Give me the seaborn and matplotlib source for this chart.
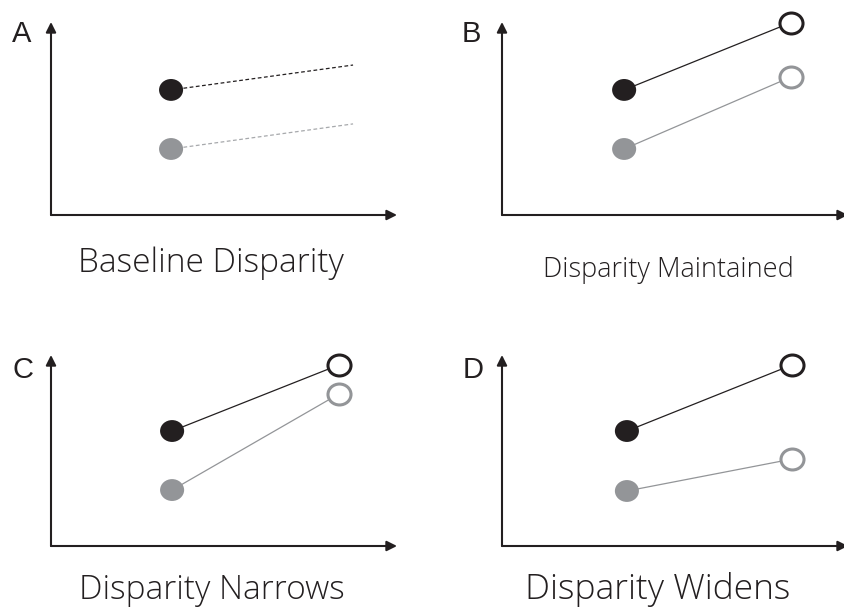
import numpy as np
import matplotlib
matplotlib.use("Agg")
import matplotlib.pyplot as plt
from matplotlib.path import Path
from matplotlib.transforms import Affine2D
import seaborn as sns

sns.set_theme(style="white")
plt.rcParams['font.family'] = ['DejaVu Sans']

# ---- data ----
panel_letters = ["A", "B", "C", "D"]
panel_titles = ["Baseline Disparity", "Disparity Maintained", "Disparity Narrows", "Disparity Widens"]
x_baseline = [3.47, 3.53, 3.50, 3.61]
x_followup = [8.73, 8.35, 8.32, 8.38]
black_baseline = [6.48, 6.48, 6.02, 6.02]
black_followup = [7.77, 9.97, 9.48, 9.48]
gray_baseline = [3.42, 3.42, 2.93, 2.88]
gray_followup = [4.72, 7.15, 7.96, 4.55]
projected = [True, False, False, False]

# ---- style ----
W, H = 844, 609
BLACK = "#231f20"
GRAY = "#939598"
ellipse = Path(Affine2D().scale(1.1, 1.0).transform(Path.unit_circle().vertices),
               Path.unit_circle().codes)

fig = plt.figure(figsize=(W / 100, H / 100), dpi=100)

# axes boxes in pixels: left, bottom(y from top), width, height
boxes = [(51, 215, 346, 193), (502, 215, 346, 193),
         (51, 546, 346, 191), (502, 546, 346, 191)]
letter_pos = [(12, 42), (462, 42), (12, 378), (463, 378)]
title_pos = [(211, 272, 24), (668, 277, 19.5), (211.5, 599, 24), (658, 599, 25.5)]

for i in range(4):
    l, b, w, h = boxes[i]
    ax = fig.add_axes([l / W, (H - b) / H, w / W, h / H])
    ax.set_xlim(0, 10)
    ax.set_ylim(0, 10)
    ax.set_axis_off()
    arrow = dict(arrowstyle="-|>", lw=1.5, color=BLACK, mutation_scale=15,
                 shrinkA=0, shrinkB=0)
    ax.annotate("", xy=(0, 1), xytext=(0, 0), xycoords="axes fraction",
                textcoords="axes fraction", arrowprops=arrow)
    ax.annotate("", xy=(1, 0), xytext=(0, 0), xycoords="axes fraction",
                textcoords="axes fraction", arrowprops=arrow)

    xs = [x_baseline[i], x_followup[i]]
    ls = (0, (3, 2)) if projected[i] else "-"
    sns.lineplot(x=xs, y=[black_baseline[i], black_followup[i]], ax=ax,
                 color=BLACK, linewidth=0.9, linestyle=ls, zorder=1)
    sns.lineplot(x=xs, y=[gray_baseline[i], gray_followup[i]], ax=ax,
                 color=GRAY if not projected[i] else "#a7a9ac", linewidth=0.9,
                 linestyle=ls, zorder=1)
    # baseline filled markers
    sns.scatterplot(x=[x_baseline[i]], y=[black_baseline[i]], ax=ax, marker=ellipse,
                    s=300, color=BLACK, edgecolor="none", linewidth=0,
                    clip_on=False, zorder=3)
    sns.scatterplot(x=[x_baseline[i]], y=[gray_baseline[i]], ax=ax, marker=ellipse,
                    s=300, color=GRAY, edgecolor="none", linewidth=0,
                    clip_on=False, zorder=3)
    if not projected[i]:
        sns.scatterplot(x=[x_followup[i]], y=[black_followup[i]], ax=ax, marker=ellipse,
                        s=275, color="white", edgecolor=BLACK, linewidth=2.2,
                        clip_on=False, zorder=3)
        sns.scatterplot(x=[x_followup[i]], y=[gray_followup[i]], ax=ax, marker=ellipse,
                        s=275, color="white", edgecolor=GRAY, linewidth=2.2,
                        clip_on=False, zorder=3)
    ax.set_xlim(0, 10)
    ax.set_ylim(0, 10)

    lx, ly = letter_pos[i]
    fig.text(lx / W, (H - ly) / H, panel_letters[i], fontsize=21,
             family=["Liberation Sans", "DejaVu Sans"], color=BLACK,
             ha="left", va="baseline")
    tx, ty, fs = title_pos[i]
    fig.text(tx / W, (H - ty) / H, panel_titles[i], fontsize=fs,
             family=["Open Sans", "DejaVu Sans"], weight="light", color="#231f20",
             ha="center", va="baseline")

fig.savefig("out.png", dpi=100, facecolor="white")
